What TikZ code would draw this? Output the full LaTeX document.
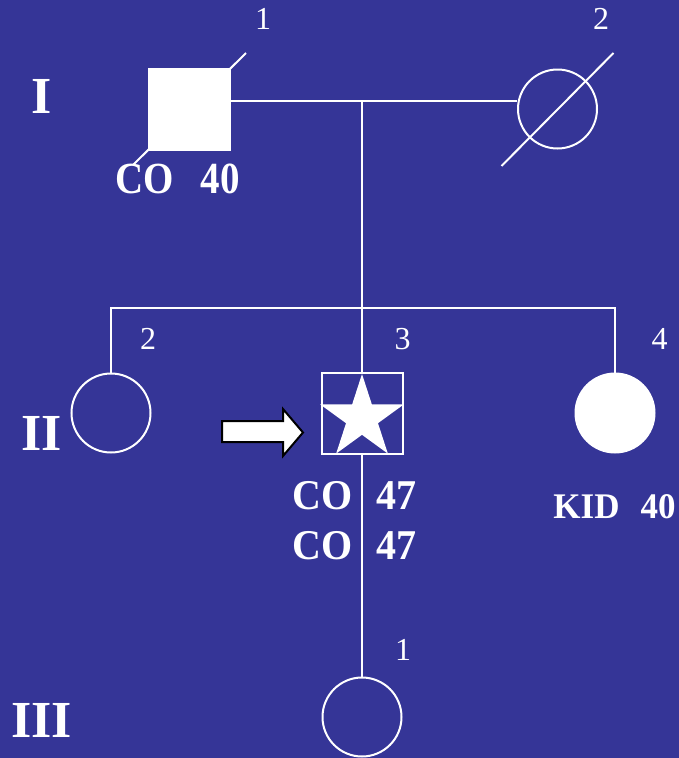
\documentclass[tikz,border=0pt]{standalone}
\usepackage{fontspec}
\setmainfont{Liberation Serif}
\usetikzlibrary{calc}
\definecolor{bg}{RGB}{53,53,151}
\begin{document}
\begin{tikzpicture}[x=1pt,y=-1pt,
  ln/.style={draw=white,line width=2pt},
  male/.style={rectangle,minimum size=81pt,inner sep=0pt,line width=2pt,draw=white},
  female/.style={circle,minimum size=79pt,inner sep=0pt,line width=2pt,draw=white},
  gen/.style={text=white,font=\fontsize{52}{52}\selectfont\bfseries,inner sep=0pt},
  num/.style={text=white,font=\fontsize{32}{32}\selectfont,inner sep=0pt},
  lab/.style={text=white,font=\fontsize{40}{40}\selectfont\bfseries,inner sep=0pt},
]
\fill[bg] (0,0) rectangle (679,758);
\useasboundingbox (0,0) rectangle (679,758);

% generation numerals
\node[gen] (gI) at (41.5,96.5) {I};
\node[gen] (gII) at (41.5,433) {II};
\node[gen] (gIII) at (41.5,720.5) {III};

% individuals
\node[male,fill=white] (i1) at (189.5,109) {};
\node[female] (i2) at (557.5,109) {};
\coordinate (mid) at (362,101);
\coordinate (sib) at (362,308);
\node[female] (ii2) at (111,413) {};
\node[male] (ii3) at (362,413.5) {};
\node[female,fill=white] (ii4) at (615,413) {};
\node[female] (iii1) at (362,717) {};

% connectors
\draw[ln] ([yshift=8pt]i1.east) -- ([yshift=8pt]i1.east -| i2.west);
\draw[ln] (mid) -- (sib);
\draw[ln,line join=miter] (ii2.north) -- (ii2.north |- sib) -- (ii4.north |- sib) -- (ii4.north);
\draw[ln] (sib) -- (ii3.north);
\draw[ln] (ii3.south) -- (iii1.north);

% deceased slashes
\draw[ln] ($(i1.center)+(-56.5,56)$) -- ($(i1.center)+(56.5,-56)$);
\draw[ln] ($(i2.center)+(-56,57)$) -- ($(i2.center)+(56,-56)$);

% star in proband
\fill[white] (362,374) -- (371.87,404.41) -- (403.85,404.40) -- (377.98,423.19)
  -- (387.86,453.60) -- (362,434.8) -- (336.14,453.6) -- (346.02,423.19)
  -- (320.15,404.40) -- (352.13,404.41) -- cycle;

% proband arrow
\draw[black,fill=white,line width=2pt,line join=miter]
  (222,421) -- (283,421) -- (283,409) -- (303,432.5) -- (283,456) -- (283,442) -- (222,442) -- cycle;

% individual numbers
\node[num] (n11) at (263,19) {1};
\node[num] (n12) at (601,19) {2};
\node[num] (n22) at (148,339) {2};
\node[num] (n23) at (402.5,339) {3};
\node[num] (n24) at (659.5,339) {4};
\node[num] (n31) at (403,649.5) {1};

% labels
\node[lab,font=\fontsize{39}{39}\selectfont\bfseries] (t1) at (177.5,179) {\scalebox{1}[1.14]{CO\hspace{0.7em}40}};
\node[lab] (t2) at (354.5,496) {\scalebox{1}[1.06]{CO\hspace{0.6em}47}};
\node[lab] (t3) at (354.5,546) {\scalebox{1}[1.06]{CO\hspace{0.6em}47}};
\node[lab,font=\fontsize{35}{35}\selectfont\bfseries] (t4) at (614.5,507) {\scalebox{1}[1.03]{KID\hspace{0.6em}40}};
\end{tikzpicture}
\end{document}
